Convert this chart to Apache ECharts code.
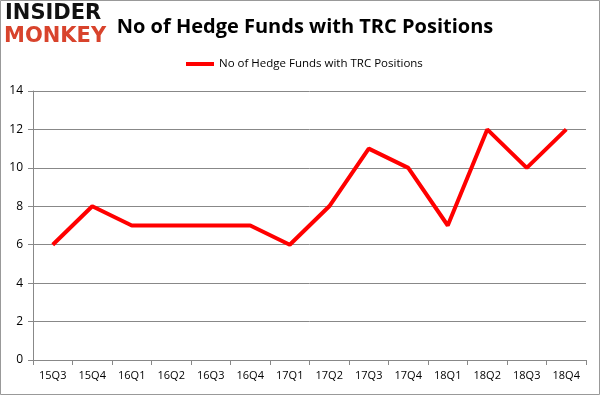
<!DOCTYPE html>
<html>
<head>
<meta charset="utf-8">
<script src="https://cdn.jsdelivr.net/npm/echarts@6/dist/echarts.min.js"></script>
<style>
html, body { margin: 0; padding: 0; background: #fff; }
#chart { width: 601px; height: 396px; }
</style>
</head>
<body>
<div id="chart"></div>
<script>
var quarters = ['15Q3','15Q4','16Q1','16Q2','16Q3','16Q4','17Q1','17Q2','17Q3','17Q4','18Q1','18Q2','18Q3','18Q4'];
var fundCounts = [6, 8, 7, 7, 7, 7, 6, 8, 11, 10, 7, 12, 10, 12];
var seriesName = 'No of Hedge Funds with TRC Positions';

var chart = echarts.init(document.getElementById('chart'));

var option = {
    backgroundColor: '#fff',
    animation: false,
    title: {
        text: 'No of Hedge Funds with TRC Positions',
        left: 300,
        top: 12,
        textAlign: 'center',
        textStyle: { fontFamily: 'Open Sans', fontSize: 20, fontWeight: 'bold', color: '#000' }
    },
    legend: {
        data: [seriesName],
        top: 53,
        left: 181,
        itemWidth: 28,
        itemHeight: 4,
        itemGap: 4,
        icon: 'rect',
        textStyle: { fontFamily: 'Open Sans', fontSize: 11.5, color: '#000' }
    },
    grid: { left: 33, right: 15, top: 91, bottom: 36 },
    xAxis: {
        type: 'category',
        data: quarters,
        boundaryGap: true,
        axisLine: { lineStyle: { color: '#888' } },
        axisTick: { show: true, alignWithLabel: false, length: 5, lineStyle: { color: '#888' } },
        axisLabel: { color: '#000', fontFamily: 'Open Sans', fontSize: 11, margin: 10 }
    },
    yAxis: {
        type: 'value',
        min: 0,
        max: 14,
        interval: 2,
        axisLine: { show: true, lineStyle: { color: '#888' } },
        axisTick: { show: true, length: 5, lineStyle: { color: '#888' } },
        splitLine: { lineStyle: { color: '#888' } },
        axisLabel: { color: '#000', fontFamily: 'Open Sans', fontSize: 12, margin: 10 }
    },
    graphic: [
        { type: 'rect', shape: { x: 0.5, y: 0.5, width: 599, height: 394 }, style: { fill: 'none', stroke: '#999', lineWidth: 1 } },
        { type: 'text', left: 5, top: 3, style: { text: 'INSIDER', fill: '#111', font: 'bold 21px "DejaVu Sans"' } },
        { type: 'text', left: 4, top: 26, style: { text: 'MONKEY', fill: '#d8432c', font: 'bold 21px "DejaVu Sans"' } }
    ],
    series: [{
        name: seriesName,
        type: 'line',
        data: fundCounts,
        symbol: 'none',
        lineStyle: { color: '#ff0000', width: 4 },
        itemStyle: { color: '#ff0000' }
    }]
};

chart.setOption(option);
</script>
</body>
</html>
